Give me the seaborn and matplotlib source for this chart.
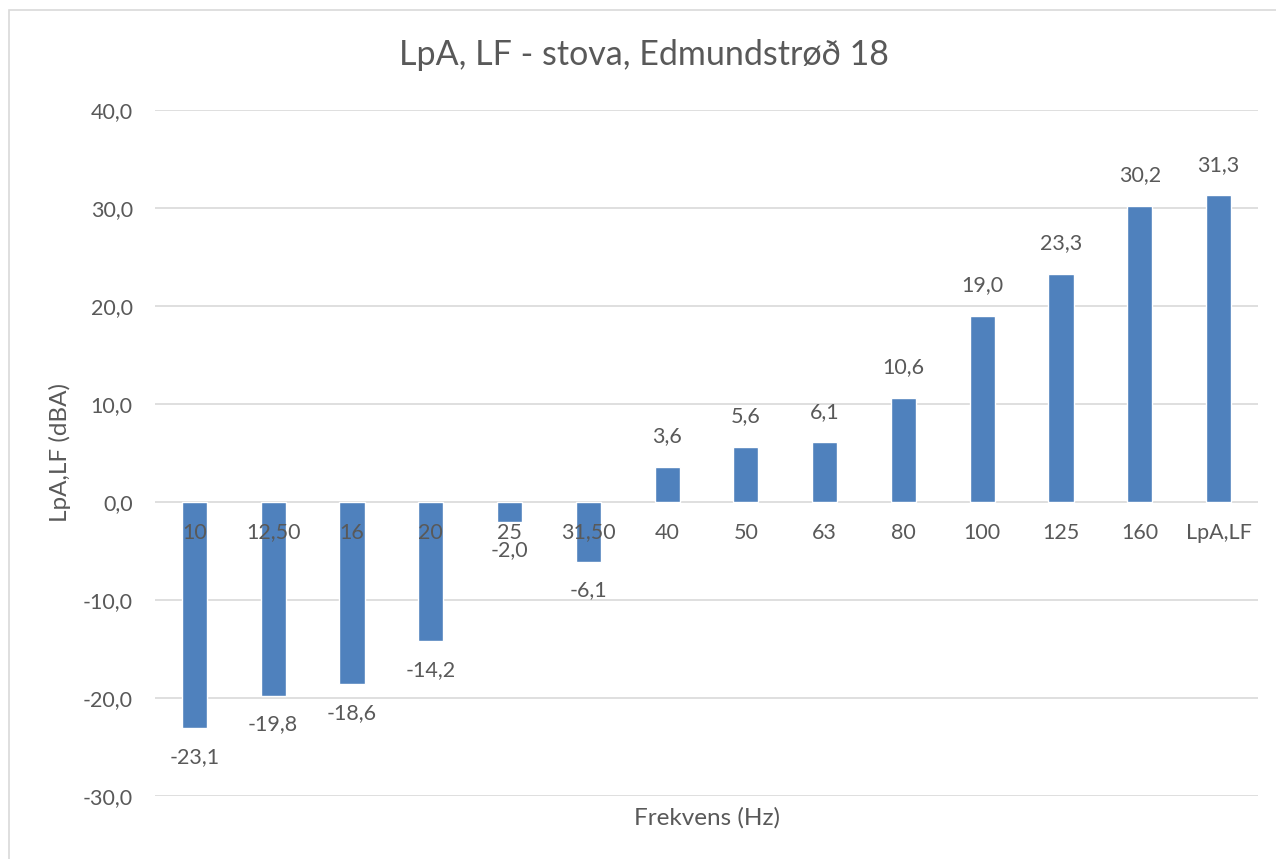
import numpy as np
import pandas as pd
import matplotlib
matplotlib.use("Agg")
import matplotlib.pyplot as plt
from matplotlib.patches import Rectangle
import seaborn as sns

# data
frekvens = ["10", "12,50", "16", "20", "25", "31,50", "40", "50", "63", "80",
            "100", "125", "160", "LpA,LF"]
lpa_lf = [-23.1, -19.8, -18.6, -14.2, -2.0, -6.1, 3.6, 5.6, 6.1, 10.6,
          19.0, 23.3, 30.2, 31.3]
y_ticks = [-30, -20, -10, 0, 10, 20, 30, 40]

df = pd.DataFrame({"Frekvens": frekvens, "LpA": lpa_lf})

sns.set_style("white")
plt.rcParams["font.family"] = ["Lato", "DejaVu Sans"]
txt = "#595959"
blue = "#4F81BD"
fs = 15.5

fig = plt.figure(figsize=(12.76, 8.59), dpi=100)
ax = fig.add_axes([155 / 1276, 1 - 796 / 859, (1258 - 155) / 1276, (796 - 110) / 859])

sns.barplot(data=df, x="Frekvens", y="LpA", order=frekvens, color=blue,
            width=0.32, saturation=1, ax=ax, zorder=2)

ax.set_ylim(-30, 40)
ax.set_xlim(-0.5, len(frekvens) - 0.5)
ax.set_yticks(y_ticks)
ax.set_yticklabels([f"{t:.1f}".replace(".", ",") for t in y_ticks],
                   color=txt, fontsize=fs)
ax.tick_params(axis="y", length=0, pad=16)
ax.set_xticks([])
ax.grid(axis="y", color="#D9D9D9", linewidth=1.2, zorder=0)
ax.set_axisbelow(True)
for s in ax.spines.values():
    s.set_visible(False)

# category labels sit on the zero line
for i, c in enumerate(frekvens):
    ax.annotate(c, xy=(i, 0), xytext=(0, -22), textcoords="offset points",
                ha="center", va="center", fontsize=fs, color=txt, zorder=5)

# value labels
for i, v in enumerate(lpa_lf):
    off = 22 if v >= 0 else -20.5
    ax.annotate(f"{v:.1f}".replace(".", ","), xy=(i, v), xytext=(0, off),
                textcoords="offset points", ha="center", va="center",
                fontsize=fs, color=txt)

ax.set_xlabel("Frekvens (Hz)", fontsize=17.5, color=txt, va="center")
ax.xaxis.set_label_coords(0.5, -(818 - 796) / 686)
ax.set_ylabel("LpA,LF (dBA)", fontsize=17.5, color=txt, va="center")
ax.yaxis.set_label_coords(-(155 - 60) / 1103, 0.5)

fig.text(0.505, 1 - 55 / 859, "LpA, LF - stova, Edmundstrøð 18",
         ha="center", va="center", fontsize=24.5, color=txt)

fig.patches.append(Rectangle((9 / 1276, -0.1), 1.2, 1.1 - 10 / 859,
                             transform=fig.transFigure, fill=False,
                             edgecolor="#D9D9D9", linewidth=1.2))

fig.savefig("out.png", dpi=100)
